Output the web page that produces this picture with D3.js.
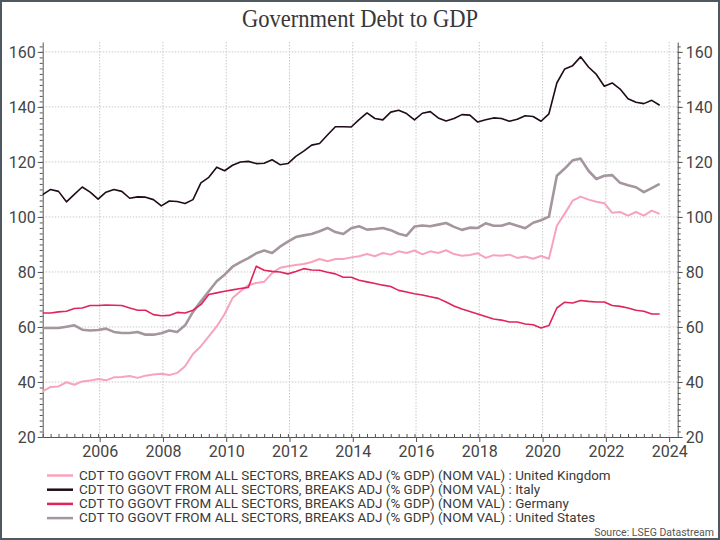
<!DOCTYPE html>
<html>
<head>
<meta charset="utf-8">
<script src="https://cdn.jsdelivr.net/npm/d3@7"></script>
<style>
  body { margin: 0; background: #fff; }
  svg { display: block; }
</style>
</head>
<body>
<svg id="chart"></svg>
<script>
// quarterly observations, Q1 2004 .. Q3 2023
const firstQuarter = 2004.2;
const nQuarters = 79;
const quarters = d3.range(nQuarters).map(i => firstQuarter + i * 0.25);

const ukDebt = [
  36.6, 38.2, 38.4, 39.9, 39.0, 40.2, 40.5, 41.1, 40.6, 41.7, 41.8, 42.2, 41.5, 42.3, 42.7, 43.0,
  42.5, 43.3, 45.7, 50.2, 53.0, 56.6, 60.2, 64.7, 70.5, 73.0, 75.2, 76.0, 76.4, 79.6, 81.5, 82.1,
  82.5, 82.9, 83.6, 84.7, 83.9, 84.7, 84.7, 85.3, 85.7, 86.5, 85.7, 86.9, 86.3, 87.5, 86.9, 87.8,
  86.4, 87.5, 86.9, 87.9, 86.5, 85.9, 86.2, 86.8, 85.1, 86.1, 85.9, 86.3, 85.1, 85.6, 84.8, 85.8,
  84.8, 96.8, 101.2, 105.9, 107.4, 106.3, 105.5, 105.0, 101.5, 101.8, 100.5, 101.8, 100.5, 102.3, 101.1
];
const italyDebt = [
  108.1, 110.0, 109.3, 105.5, 108.2, 110.9, 109.0, 106.5, 109.0, 110.0, 109.3, 106.8, 107.3, 107.2, 106.3, 104.0,
  105.8, 105.6, 104.9, 106.3, 112.4, 114.4, 118.1, 116.8, 118.8, 120.0, 120.2, 119.4, 119.5, 120.8, 119.0, 119.4,
  122.0, 123.9, 126.1, 126.7, 129.8, 132.8, 132.8, 132.7, 135.4, 137.8, 135.8, 135.3, 138.1, 138.8, 137.6, 135.3,
  137.7, 138.3, 136.0, 134.9, 135.8, 137.2, 137.0, 134.5, 135.3, 136.0, 135.8, 134.8, 135.5, 136.8, 136.5, 134.8,
  137.5, 148.7, 153.8, 155.0, 158.2, 154.5, 151.8, 147.5, 148.7, 146.5, 143.0, 141.7, 141.2, 142.4, 140.6
];
const germanyDebt = [
  65.1, 65.1, 65.5, 65.7, 66.7, 66.9, 67.8, 67.8, 68.0, 67.9, 67.8, 66.9, 66.1, 66.1, 64.5, 64.1,
  64.2, 65.3, 65.1, 66.1, 68.1, 71.8, 72.4, 73.0, 73.5, 74.0, 74.4, 82.1, 80.6, 80.2, 80.0, 79.3,
  80.2, 81.2, 80.7, 80.6, 79.9, 79.3, 78.1, 78.1, 77.0, 76.4, 75.8, 75.2, 74.7, 73.3, 72.7, 72.1,
  71.6, 71.0, 70.4, 69.1, 67.6, 66.5, 65.6, 64.7, 63.8, 62.9, 62.5, 61.8, 61.8, 61.1, 60.8, 59.6,
  60.5, 66.9, 69.0, 68.7, 69.6, 69.3, 69.1, 69.1, 67.8, 67.5, 66.9, 66.1, 65.7, 64.7, 64.7
];
const usDebt = [
  59.6, 59.6, 59.6, 60.1, 60.6, 59.0, 58.7, 58.9, 59.4, 58.2, 57.8, 57.8, 58.2, 57.2, 57.2, 57.7,
  58.7, 58.2, 60.6, 65.5, 69.3, 73.0, 76.6, 79.0, 81.9, 83.6, 85.0, 86.8, 87.8, 86.9, 89.2, 91.0,
  92.7, 93.3, 93.8, 94.8, 96.0, 94.5, 93.8, 95.9, 96.6, 95.4, 95.6, 96.0, 95.2, 93.9, 93.2, 96.5,
  96.9, 96.6, 97.2, 97.8, 96.4, 95.3, 96.1, 96.0, 97.7, 96.8, 96.8, 97.7, 96.8, 95.9, 97.9, 98.8,
  100.1, 115.0, 117.6, 120.6, 121.2, 116.8, 113.8, 115.0, 115.2, 112.4, 111.5, 110.8, 109.0, 110.5, 112.0
];

const seriesNames = ["United Kingdom", "Italy", "Germany", "United States"];
const seriesColors = ["#f7a3bb", "#1f0b19", "#e0245c", "#a4959f"];
const seriesWidths = [2, 1.6, 1.6, 2.6];
const legendPrefix = "CDT TO GGOVT FROM ALL SECTORS, BREAKS ADJ (% GDP) (NOM VAL) : ";

const yTicks = d3.range(20, 161, 20);
const yMinor = d3.range(20, 164, 2);
const xTicks = d3.range(2006, 2025, 2);

const width = 720;
const height = 540;
const margin = { top: 42, right: 42.3, bottom: 103, left: 42.7 };

const svg = d3.select("#chart")
  .attr("width", width)
  .attr("height", height);

svg.append("rect")
  .attr("x", 1).attr("y", 1)
  .attr("width", width - 2).attr("height", height - 2)
  .attr("fill", "#fff")
  .attr("stroke", "#4f5962")
  .attr("stroke-width", 2);

const x = d3.scaleLinear()
  .domain([firstQuarter, 2024.27])
  .range([margin.left, width - margin.right]);

const y = d3.scaleLinear()
  .domain([20, 163.6])
  .range([height - margin.bottom, margin.top]);

// title
svg.append("text")
  .attr("x", width / 2)
  .attr("y", 27)
  .attr("text-anchor", "middle")
  .attr("font-family", "'Liberation Serif', serif")
  .attr("font-size", 26)
  .attr("textLength", 236)
  .attr("lengthAdjust", "spacingAndGlyphs")
  .attr("fill", "#383838")
  .text("Government Debt to GDP");

// gridlines
const grid = svg.append("g").attr("stroke", "#c9c9c9").attr("stroke-dasharray", "1.5,1.5");
grid.selectAll(".hg")
  .data(yTicks.filter(d => d > 20))
  .enter().append("line")
  .attr("x1", x.range()[0]).attr("x2", x.range()[1])
  .attr("y1", d => y(d)).attr("y2", d => y(d));
grid.selectAll(".vg")
  .data(xTicks)
  .enter().append("line")
  .attr("x1", d => x(d)).attr("x2", d => x(d))
  .attr("y1", y.range()[1]).attr("y2", y.range()[0]);

// axes
function styleAxis(g) {
  g.selectAll("path, line").attr("stroke", "#555");
  g.selectAll("text")
    .attr("font-family", "Roboto, sans-serif")
    .attr("font-size", 16)
    .attr("fill", "#444");
}

svg.append("g")
  .attr("transform", `translate(${x.range()[0]},0)`)
  .call(d3.axisLeft(y).tickValues(yMinor).tickSize(3).tickSizeOuter(0).tickFormat(""))
  .call(styleAxis);
svg.append("g")
  .attr("transform", `translate(${x.range()[0]},0)`)
  .call(d3.axisLeft(y).tickValues(yTicks).tickSize(5).tickSizeOuter(0).tickPadding(2))
  .call(styleAxis)
  .call(g => g.select(".domain").remove());

svg.append("g")
  .attr("transform", `translate(${x.range()[1]},0)`)
  .call(d3.axisRight(y).tickValues(yMinor).tickSize(3).tickSizeOuter(0).tickFormat(""))
  .call(styleAxis);
svg.append("g")
  .attr("transform", `translate(${x.range()[1]},0)`)
  .call(d3.axisRight(y).tickValues(yTicks).tickSize(5).tickSizeOuter(0).tickPadding(3))
  .call(styleAxis)
  .call(g => g.select(".domain").remove());

svg.append("g")
  .attr("transform", `translate(0,${y.range()[0]})`)
  .call(d3.axisBottom(x).tickValues(quarters).tickSize(-3).tickSizeOuter(0).tickFormat(""))
  .call(styleAxis);
svg.append("g")
  .attr("transform", `translate(0,${y.range()[0]})`)
  .call(d3.axisBottom(x).tickValues(xTicks).tickSize(5).tickSizeOuter(0).tickPadding(4).tickFormat(d3.format("d")))
  .call(styleAxis)
  .call(g => g.select(".domain").remove());

// lines
const allSeries = [ukDebt, italyDebt, germanyDebt, usDebt];
const line = d3.line()
  .x((d, i) => x(quarters[i]))
  .y(d => y(d));

// draw order: US and UK beneath, Germany, Italy on top
[3, 0, 2, 1].forEach(k => {
  svg.append("path")
    .datum(allSeries[k])
    .attr("fill", "none")
    .attr("stroke", seriesColors[k])
    .attr("stroke-width", seriesWidths[k])
    .attr("stroke-linejoin", "round")
    .attr("d", line);
});

// legend
const legend = svg.append("g").attr("transform", "translate(47,475.5)");
seriesNames.forEach((name, k) => {
  const row = legend.append("g").attr("transform", `translate(0,${k * 14.2})`);
  row.append("line")
    .attr("x1", 0).attr("x2", 26)
    .attr("stroke", seriesColors[k])
    .attr("stroke-width", 2.5);
  row.append("text")
    .attr("transform", "translate(32,0) scale(1.12,1)")
    .attr("dy", "0.35em")
    .attr("font-family", "Roboto, sans-serif")
    .attr("font-size", 12)
    .attr("fill", "#3a3a3a")
    .text(legendPrefix + name);
});

svg.append("text")
  .attr("x", 714)
  .attr("y", 536)
  .attr("text-anchor", "end")
  .attr("font-family", "Roboto, sans-serif")
  .attr("font-size", 10.5)
  .attr("fill", "#555")
  .text("Source: LSEG Datastream");
</script>
</body>
</html>
